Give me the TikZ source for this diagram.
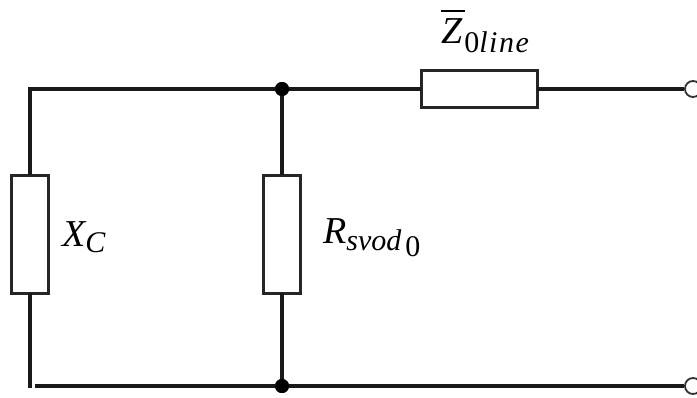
\documentclass[tikz,border=0pt]{standalone}
\usepackage{fontspec}
\setmainfont{Liberation Serif}
\tikzset{
  wire/.style={line width=3.3pt,color=black!90},
  res/.style={draw=black!85,line width=3pt,fill=white,minimum width=#1,inner sep=0pt,outer sep=0pt},
  dotnode/.style={circle,fill=black,minimum size=14pt,inner sep=0pt},
  term/.style={circle,draw=black!80,line width=1.8pt,fill=white,minimum size=16pt,inner sep=0pt},
  lab/.style={inner sep=0pt,anchor=base west,text=black}
}
\newcommand{\bigf}{\fontsize{38}{38}\selectfont\itshape}
\newcommand{\subf}{\fontsize{30}{30}\selectfont}
\begin{document}
\begin{tikzpicture}[x=1pt,y=-1pt]
\clip (0,0) rectangle (697,397);
\fill[white] (0,0) rectangle (697,397);
\coordinate (tl) at (30,89);
\coordinate (bl) at (30,388);
\coordinate (bs) at (35,386);
\node[dotnode] (jt) at (282,89) {};
\node[dotnode] (jb) at (282,386) {};
\node[term] (tt) at (693,89) {};
\node[term] (tb) at (693,386) {};
\node[res=37pt,minimum height=118pt] (rc) at (30,234) {};
\node[res=37pt,minimum height=118pt] (rs) at (282,234) {};
\node[res=116pt,minimum height=37pt] (rz) at (479,89) {};
\draw[wire] (rc.north) -- (tl) -- (jt);
\draw[wire] (jt) -- (rz.west);
\draw[wire] (rz.east) -- (tt.west);
\draw[wire] (jt) -- (rs.north);
\draw[wire] (rs.south) -- (jb);
\draw[wire] (rc.south) -- (bl);
\draw[wire] (bs) -- (jb);
\draw[wire] (jb) -- (tb.west);
\node[dotnode] at (jt) {};
\node[dotnode] at (jb) {};
\node[lab] (lx) at (62,246) {\bigf X\raisebox{-6pt}{\subf C}};
\node[lab] (lr) at (323,243) {\bigf R\raisebox{-7pt}{\subf svod}\hspace{4pt}\raisebox{-13pt}{\subf\upshape 0}};
\node[lab] (lz) at (441,43) {\bigf Z\hspace{2pt}\raisebox{-9pt}{\subf\upshape 0\itshape \addfontfeatures{LetterSpace=5}line}};
\draw[line width=2pt,black] (441,11) -- (465,11);
\end{tikzpicture}
\end{document}
